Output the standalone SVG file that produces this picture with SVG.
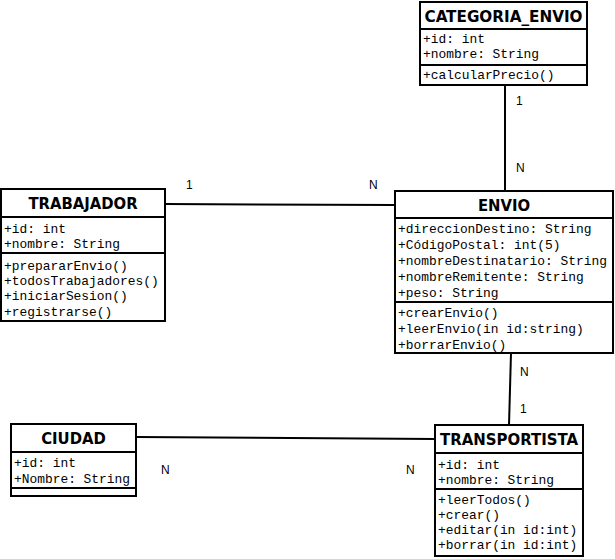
<svg xmlns="http://www.w3.org/2000/svg" width="615" height="559" viewBox="0 0 615 559">
<style>
.box{fill:#fff;stroke:#000;stroke-width:2}
.sep{stroke:#000;stroke-width:2}
.hd{font-family:"DejaVu Sans Condensed","DejaVu Sans",sans-serif;font-weight:bold;font-size:16.5px;text-anchor:middle;fill:#000}
.m{font-family:"Liberation Mono","Courier New",monospace;font-size:12.9px;fill:#000}
.lb{font-family:"Liberation Sans",Arial,sans-serif;font-size:12px;fill:#000}
.c{stroke:#000;stroke-width:2;fill:none}
</style>
<rect width="615" height="559" fill="#fff"/>
<g id="connectors">
<line class="c" x1="505" y1="85" x2="505" y2="191"/>
<line class="c" x1="165" y1="204" x2="395" y2="205"/>
<line class="c" x1="511" y1="353" x2="509" y2="425"/>
<line class="c" x1="136" y1="437" x2="435" y2="439"/>
<text class="lb" x="516" y="105">1</text>
<text class="lb" x="516" y="172">N</text>
<text class="lb" x="186" y="189">1</text>
<text class="lb" x="369" y="189">N</text>
<text class="lb" x="520" y="376">N</text>
<text class="lb" x="520" y="413">1</text>
<text class="lb" x="161" y="474">N</text>
<text class="lb" x="406" y="474">N</text>
</g>
<g id="categoria_envio">
<rect class="box" x="420" y="2" width="167" height="83"/>
<line class="sep" x1="420" y1="29" x2="587" y2="29"/>
<line class="sep" x1="420" y1="65" x2="587" y2="65"/>
<text class="hd" x="503.5" y="21.5" textLength="158" lengthAdjust="spacingAndGlyphs">CATEGORIA_ENVIO</text>
<text class="m" x="423" y="43">+id: int</text>
<text class="m" x="423" y="58">+nombre: String</text>
<text class="m" x="423" y="79">+calcularPrecio()</text>
</g>
<g id="envio">
<rect class="box" x="395" y="191" width="218" height="162"/>
<line class="sep" x1="395" y1="218" x2="613" y2="218"/>
<line class="sep" x1="395" y1="302" x2="613" y2="302"/>
<text class="hd" x="504" y="211">ENVIO</text>
<text class="m" x="398" y="233">+direccionDestino: String</text>
<text class="m" x="398" y="249">+CódigoPostal: int(5)</text>
<text class="m" x="398" y="265">+nombreDestinatario: String</text>
<text class="m" x="398" y="281">+nombreRemitente: String</text>
<text class="m" x="398" y="297">+peso: String</text>
<text class="m" x="398" y="317">+crearEnvio()</text>
<text class="m" x="398" y="333">+leerEnvio(in id:string)</text>
<text class="m" x="398" y="349">+borrarEnvio()</text>
</g>
<g id="trabajador">
<rect class="box" x="1" y="189" width="164" height="132"/>
<line class="sep" x1="1" y1="217" x2="165" y2="217"/>
<line class="sep" x1="1" y1="253" x2="165" y2="253"/>
<text class="hd" x="83" y="209">TRABAJADOR</text>
<text class="m" x="4" y="233">+id: int</text>
<text class="m" x="4" y="248">+nombre: String</text>
<text class="m" x="4" y="270">+prepararEnvio()</text>
<text class="m" x="4" y="285">+todosTrabajadores()</text>
<text class="m" x="4" y="300">+iniciarSesion()</text>
<text class="m" x="4" y="316">+registrarse()</text>
</g>
<g id="ciudad">
<rect class="box" x="11" y="424" width="125" height="72"/>
<line class="sep" x1="11" y1="452" x2="136" y2="452"/>
<line class="sep" x1="11" y1="488" x2="136" y2="488"/>
<text class="hd" x="73.5" y="444">CIUDAD</text>
<text class="m" x="14" y="467">+id: int</text>
<text class="m" x="14" y="483">+Nombre: String</text>
</g>
<g id="transportista">
<rect class="box" x="435" y="425" width="148" height="131"/>
<line class="sep" x1="435" y1="453" x2="583" y2="453"/>
<line class="sep" x1="435" y1="489" x2="583" y2="489"/>
<text class="hd" x="509" y="445" textLength="138" lengthAdjust="spacingAndGlyphs">TRANSPORTISTA</text>
<text class="m" x="438" y="469">+id: int</text>
<text class="m" x="438" y="484">+nombre: String</text>
<text class="m" x="438" y="504">+leerTodos()</text>
<text class="m" x="438" y="519">+crear()</text>
<text class="m" x="438" y="534">+editar(in id:int)</text>
<text class="m" x="438" y="549">+borrar(in id:int)</text>
</g>
</svg>
